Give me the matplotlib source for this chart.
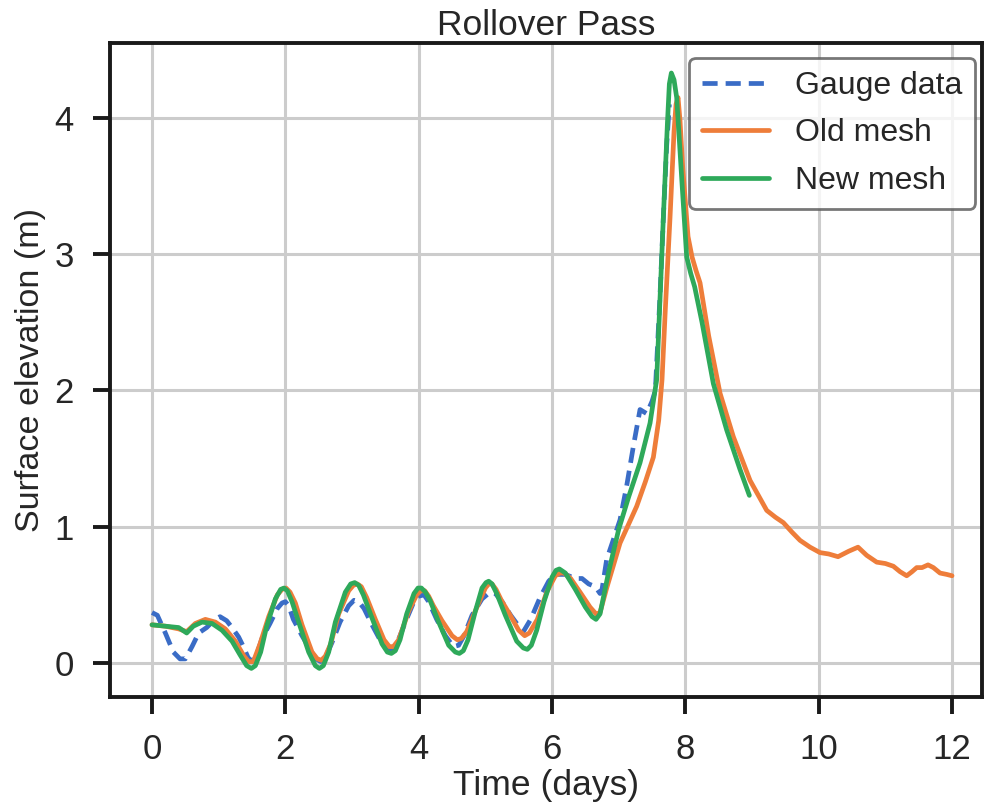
import matplotlib.pyplot as plt
import seaborn as sns

# Data (time in days, surface elevation in m)
gauge_t = [0.0, 0.08, 0.2, 0.32, 0.42, 0.5, 0.6, 0.7, 0.82, 0.92, 1.02, 1.12, 1.2, 1.3, 1.37,
           1.44, 1.5, 1.57, 1.65, 1.77, 1.88, 1.95, 2.0, 2.05, 2.12, 2.25, 2.37, 2.46, 2.53, 2.6,
           2.7, 2.82, 2.95, 3.03, 3.1, 3.18, 3.3, 3.42, 3.52, 3.6, 3.68, 3.8, 3.92, 4.0, 4.08,
           4.15, 4.27, 4.4, 4.52, 4.6, 4.68, 4.8, 4.95, 5.07, 5.15, 5.25, 5.38, 5.5, 5.57, 5.68,
           5.82, 5.95, 6.05, 6.2, 6.35, 6.45, 6.55, 6.65, 6.72, 6.75, 6.82, 7.02, 7.12, 7.22,
           7.32, 7.42, 7.5, 7.55, 7.62, 7.67, 7.72, 7.76]
gauge_h = [0.37, 0.35, 0.22, 0.08, 0.03, 0.03, 0.12, 0.22, 0.26, 0.31, 0.34, 0.31, 0.26, 0.19,
           0.12, 0.04, 0.01, 0.06, 0.18, 0.29, 0.40, 0.44, 0.45, 0.42, 0.32, 0.20, 0.10, 0.03,
           0.01, 0.04, 0.15, 0.30, 0.42, 0.46, 0.45, 0.40, 0.28, 0.17, 0.10, 0.10, 0.15, 0.30,
           0.44, 0.49, 0.50, 0.45, 0.32, 0.20, 0.12, 0.13, 0.20, 0.35, 0.47, 0.52, 0.51, 0.45,
           0.35, 0.27, 0.23, 0.32, 0.48, 0.60, 0.65, 0.65, 0.62, 0.62, 0.58, 0.56, 0.51, 0.54,
           0.76, 1.05, 1.30, 1.59, 1.86, 1.83, 1.92, 2.0, 2.7, 3.27, 3.8, 4.1]

old_t = [0.0, 0.2, 0.4, 0.52, 0.65, 0.8, 0.95, 1.1, 1.25, 1.38, 1.45, 1.52, 1.62, 1.75, 1.88,
         1.95, 2.01, 2.07, 2.15, 2.25, 2.4, 2.48, 2.54, 2.6, 2.68, 2.8, 2.95, 3.02, 3.08, 3.14,
         3.22, 3.35, 3.48, 3.56, 3.62, 3.7, 3.85, 3.97, 4.03, 4.09, 4.15, 4.22, 4.35, 4.5, 4.58,
         4.64, 4.72, 4.9, 5.0, 5.05, 5.1, 5.16, 5.24, 5.35, 5.5, 5.59, 5.66, 5.78, 5.92, 6.05,
         6.12, 6.18, 6.28, 6.42, 6.57, 6.66, 6.72, 6.82, 7.02, 7.15, 7.27, 7.4, 7.52, 7.6, 7.65,
         7.7, 7.77, 7.83, 7.86, 7.89, 7.92, 7.96, 8.04, 8.1, 8.16, 8.22, 8.35, 8.52, 8.72, 8.97,
         9.22, 9.35, 9.47, 9.6, 9.72, 9.87, 10.02, 10.15, 10.29, 10.45, 10.59, 10.72, 10.87,
         11.0, 11.12, 11.22, 11.32, 11.4, 11.47, 11.55, 11.64, 11.72, 11.82, 11.92, 12.0]
old_h = [0.28, 0.27, 0.25, 0.23, 0.29, 0.32, 0.30, 0.25, 0.16, 0.05, 0.01, 0.01, 0.14, 0.34,
         0.50, 0.54, 0.55, 0.52, 0.44, 0.28, 0.08, 0.03, 0.02, 0.05, 0.14, 0.36, 0.53, 0.57,
         0.58, 0.56, 0.48, 0.32, 0.17, 0.12, 0.12, 0.17, 0.38, 0.50, 0.53, 0.53, 0.49, 0.42,
         0.31, 0.20, 0.17, 0.18, 0.23, 0.44, 0.55, 0.58, 0.58, 0.54, 0.46, 0.37, 0.24, 0.20,
         0.22, 0.32, 0.52, 0.64, 0.66, 0.66, 0.62, 0.52, 0.41, 0.36, 0.37, 0.55, 0.88, 1.02,
         1.15, 1.33, 1.51, 1.78, 2.08, 2.6, 3.27, 3.9, 4.1, 4.15, 3.98, 3.64, 3.13, 2.98, 2.88,
         2.79, 2.4, 1.98, 1.66, 1.34, 1.12, 1.07, 1.03, 0.96, 0.90, 0.85, 0.81, 0.80, 0.78,
         0.82, 0.85, 0.79, 0.74, 0.73, 0.71, 0.67, 0.64, 0.67, 0.70, 0.70, 0.72, 0.70, 0.66,
         0.65, 0.64]

new_t = [0.0, 0.2, 0.4, 0.52, 0.62, 0.75, 0.9, 1.05, 1.2, 1.32, 1.42, 1.49, 1.55, 1.63, 1.72,
         1.85, 1.93, 1.98, 2.03, 2.1, 2.2, 2.35, 2.45, 2.51, 2.57, 2.65, 2.75, 2.9, 2.98, 3.04,
         3.1, 3.17, 3.3, 3.45, 3.53, 3.59, 3.65, 3.72, 3.82, 3.93, 3.99, 4.04, 4.1, 4.17, 4.3,
         4.45, 4.55, 4.61, 4.67, 4.74, 4.85, 4.95, 5.01, 5.05, 5.1, 5.17, 5.3, 5.47, 5.57, 5.63,
         5.69, 5.77, 5.88, 6.0, 6.06, 6.11, 6.2, 6.35, 6.5, 6.6, 6.66, 6.72, 6.85, 7.0, 7.15,
         7.32, 7.47, 7.57, 7.67, 7.73, 7.76, 7.79, 7.83, 7.87, 7.95, 8.02, 8.08, 8.14, 8.25,
         8.42, 8.62, 8.82, 8.96]
new_h = [0.28, 0.27, 0.26, 0.22, 0.27, 0.30, 0.29, 0.24, 0.16, 0.06, -0.02, -0.04, -0.02, 0.08,
         0.27, 0.47, 0.54, 0.55, 0.53, 0.45, 0.30, 0.08, -0.02, -0.04, -0.02, 0.08, 0.30, 0.52,
         0.58, 0.59, 0.57, 0.50, 0.33, 0.14, 0.08, 0.07, 0.09, 0.17, 0.36, 0.51, 0.55, 0.55,
         0.52, 0.46, 0.30, 0.13, 0.08, 0.07, 0.09, 0.17, 0.38, 0.55, 0.59, 0.60, 0.58, 0.51,
         0.35, 0.16, 0.11, 0.10, 0.13, 0.24, 0.45, 0.63, 0.68, 0.69, 0.66, 0.54, 0.41, 0.34,
         0.32, 0.36, 0.67, 0.98, 1.22, 1.47, 1.76, 2.08, 3.27, 3.95, 4.25, 4.33, 4.28, 4.15,
         3.52, 2.98, 2.86, 2.76, 2.5, 2.05, 1.71, 1.42, 1.23]

sns.set_style("whitegrid")
plt.rcParams['font.family'] = ['Liberation Sans', 'DejaVu Sans']

fig = plt.figure(figsize=(9.84, 8.09), dpi=100)
ax = fig.add_axes([0.1118, 0.1384, 0.8862, 0.8084])

ax.plot(gauge_t, gauge_h, "--", color="#3a6cc6", lw=3.4, dashes=(3.2, 1.7), label="Gauge data")
ax.plot(old_t, old_h, color="#ee7d3a", lw=3.4, label="Old mesh")
ax.plot(new_t, new_h, color="#2ea95a", lw=3.4, label="New mesh")

ax.set_xlim(-0.63, 12.45)
ax.set_ylim(-0.25, 4.55)
ax.set_xticks([0, 2, 4, 6, 8, 10, 12])
ax.set_yticks([0, 1, 2, 3, 4])

ax.grid(True, color="#cccccc", lw=2.2)
for s in ax.spines.values():
    s.set_color("#1a1a1a")
    s.set_linewidth(2.8)
ax.tick_params(axis="both", which="major", labelsize=25, length=12, width=2.8,
               color="#1a1a1a", labelcolor="#262626", pad=14, bottom=True, left=True)

ax.set_title("Rollover Pass", fontsize=25.5, color="#262626", pad=6)
ax.set_xlabel("Time (days)", fontsize=25.5, color="#262626", labelpad=2)
ax.set_ylabel("Surface elevation (m)", fontsize=24.5, color="#262626", labelpad=6)

leg = ax.legend(loc="upper right", bbox_to_anchor=(0.992, 0.977), fontsize=23,
                handlelength=2.1, frameon=True, borderaxespad=0, labelspacing=0.55,
                borderpad=0.4, handletextpad=0.8)
leg.get_frame().set_edgecolor("#555555")
leg.get_frame().set_linewidth(2)

fig.savefig("out.png", dpi=100)
